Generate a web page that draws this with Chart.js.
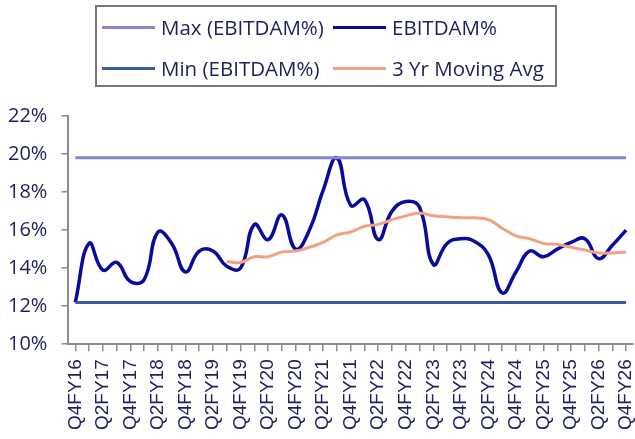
<!DOCTYPE html>
<html>
<head>
<meta charset="utf-8">
<script src="https://cdn.jsdelivr.net/npm/chart.js@4.4.1/dist/chart.umd.min.js"></script>
<style>
  body { margin: 0; background: #fff; }
  #wrap { position: relative; width: 635px; height: 439px; }
  #legend {
    position: absolute; left: 95px; top: 5px; width: 462px; height: 82px;
    border: 2.5px solid #777; box-sizing: border-box;
    font-family: "Open Sans", sans-serif; font-size: 20.5px; color: #1f1f5c;
  }
  .item { position: absolute; display: flex; align-items: center; white-space: nowrap; height: 24px; }
  .item span.ln { display: inline-block; width: 53px; height: 3px; margin-right: 6px; }
</style>
</head>
<body>
<div id="wrap">
  <canvas id="myChart" width="635" height="439"></canvas>
  <div id="legend"></div>
</div>
<script>
  const quarters = ["Q4FY16","Q1FY17","Q2FY17","Q3FY17","Q4FY17","Q1FY18","Q2FY18","Q3FY18","Q4FY18",
    "Q1FY19","Q2FY19","Q3FY19","Q4FY19","Q1FY20","Q2FY20","Q3FY20","Q4FY20","Q1FY21","Q2FY21","Q3FY21",
    "Q4FY21","Q1FY22","Q2FY22","Q3FY22","Q4FY22","Q1FY23","Q2FY23","Q3FY23","Q4FY23","Q1FY24","Q2FY24",
    "Q3FY24","Q4FY24","Q1FY25","Q2FY25","Q3FY25","Q4FY25","Q1FY26","Q2FY26","Q3FY26","Q4FY26"]

  let ebitdam = [12.2, 15.3, 13.9, 14.3, 13.3, 13.4, 15.9, 15.3, 13.8, 14.9, 14.9, 14.1, 14.0, 16.3,
    15.5, 16.8, 15.0, 16.0, 18.1, 19.8, 17.3, 17.6, 15.5, 17.0, 17.5, 17.2, 14.2, 15.3, 15.55, 15.4,
    14.7, 12.7, 13.8, 14.9, 14.6, 15.0, 15.35, 15.55, 14.5, 15.2, 16.0]

  let movingAvg = [null, null, null, null, null, null, null, null, null, null, null, 14.35, 14.3, 14.6,
    14.6, 14.85, 14.9, 15.1, 15.35, 15.75, 15.9, 16.2, 16.3, 16.55, 16.75, 16.9, 16.75, 16.7, 16.65,
    16.65, 16.55, 16.1, 15.7, 15.55, 15.3, 15.25, 15.1, 14.95, 14.8, 14.8, 14.85]

  let maxVal = 19.8
  let minVal = 12.2
  let yTicks = [10, 12, 14, 16, 18, 20, 22]

  const names = ["Max (EBITDAM%)", "EBITDAM%", "Min (EBITDAM%)", "3 Yr Moving Avg"]
  const colors = ["#8585d3", "#0a0a9c", "#3d5a9f", "#f0a282"]

  // html legend, 2 x 2
  const legend = document.getElementById('legend')
  const spots = [[5, 8], [236, 8], [5, 49], [236, 49]]
  names.forEach((n, i) => {
    const d = document.createElement('div')
    d.className = 'item'
    d.style.left = spots[i][0] + 'px'
    d.style.top = spots[i][1] + 'px'
    d.innerHTML = '<span class="ln" style="background:' + colors[i] + '"></span>' + n
    legend.appendChild(d)
  })

  const axisGray = '#8c8c8c'

  new Chart(document.getElementById('myChart'), {
    type: 'line',
    data: {
      labels: quarters,
      datasets: [
        { label: names[0], data: quarters.map(() => maxVal), borderColor: colors[0], borderWidth: 3, tension: 0 },
        { label: names[2], data: quarters.map(() => minVal), borderColor: colors[2], borderWidth: 3, tension: 0 },
        { label: names[3], data: movingAvg, borderColor: colors[3], borderWidth: 3, tension: 0.4 },
        { label: names[1], data: ebitdam, borderColor: colors[1], borderWidth: 3.5, tension: 0.45 }
      ]
    },
    options: {
      responsive: false,
      animation: false,
      layout: { padding: { top: 116, right: 2, left: 0, bottom: 1 } },
      elements: { point: { radius: 0 } },
      plugins: { legend: { display: false }, tooltip: { enabled: false } },
      scales: {
        x: {
          offset: true,
          afterFit: (s) => { s.paddingRight = 0 },
          grid: { display: true, drawOnChartArea: false, color: axisGray, tickLength: 7, lineWidth: 1.5 },
          border: { color: axisGray, width: 2 },
          ticks: {
            autoSkip: false, minRotation: 90, maxRotation: 90, color: '#1f1f5c', padding: 8,
            font: { family: "Liberation Sans, Arial, sans-serif", size: 19 },
            callback: function (v, i) { return i % 2 === 0 ? quarters[i] : '' }
          }
        },
        y: {
          min: yTicks[0], max: yTicks[yTicks.length - 1],
          afterBuildTicks: (axis) => { axis.ticks = yTicks.map(v => ({ value: v })) },
          afterFit: (s) => { s.width -= 6 },
          grid: { display: true, drawOnChartArea: false, color: axisGray, tickLength: 7, lineWidth: 1.5 },
          border: { color: axisGray, width: 2 },
          ticks: { color: '#1f1f5c', padding: 14, font: { family: "Open Sans, sans-serif", size: 20 }, callback: v => v + '%' }
        }
      }
    }
  })
</script>
</body>
</html>
